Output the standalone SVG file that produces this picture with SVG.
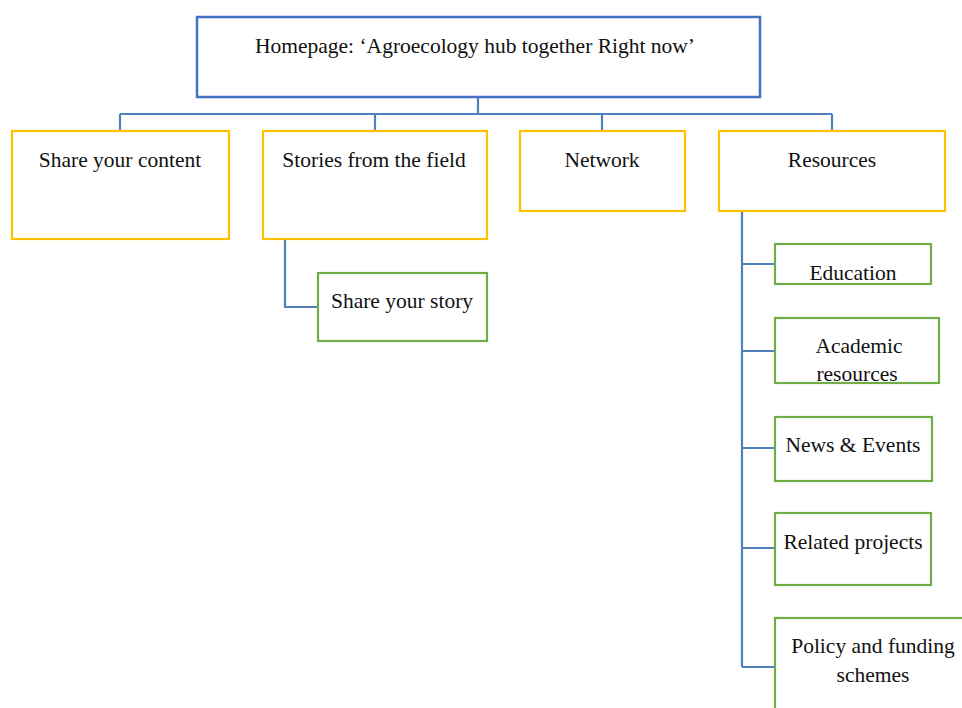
<svg xmlns="http://www.w3.org/2000/svg" width="962" height="708" viewBox="0 0 962 708">
<style>
text{font-family:"Liberation Serif","Times New Roman",serif;font-size:21.5px;fill:#111;text-anchor:middle}
.top{fill:#fff;stroke:#4472C4;stroke-width:2.5}
.y{fill:#fff;stroke:#FFC000;stroke-width:2.2}
.g{fill:#fff;stroke:#70AD47;stroke-width:2.2}
.c{fill:none;stroke:#4F81BD;stroke-width:2.2}
</style>
<rect width="962" height="708" fill="#fff"/>
<g id="connectors">
<path class="c" d="M478 97V114M120 114H832M120 114V131M375 114V131M602 114V131M832 114V131"/>
<path class="c" d="M285 239V307H318"/>
<path class="c" d="M742 211V667M742 264H775M742 351H775M742 448H775M742 548H775M742 667H775"/>
</g>
<g id="home"><rect class="top" x="197" y="17" width="563" height="80"/><text x="475" y="53">Homepage: ‘Agroecology hub together Right now’</text></g>
<g id="share-content"><rect class="y" x="12" y="131" width="217" height="108"/><text x="120" y="167">Share your content</text></g>
<g id="stories"><rect class="y" x="263" y="131" width="224" height="108"/><text x="374" y="167">Stories from the field</text></g>
<g id="network"><rect class="y" x="520" y="131" width="165" height="80"/><text x="602" y="167">Network</text></g>
<g id="resources"><rect class="y" x="719" y="131" width="226" height="80"/><text x="832" y="167">Resources</text></g>
<g id="share-story"><rect class="g" x="318" y="273" width="169" height="68"/><text x="402" y="308">Share your story</text></g>
<g id="education"><rect class="g" x="775" y="244" width="156" height="40"/><text x="853" y="280">Education</text></g>
<g id="academic"><rect class="g" x="775" y="318" width="164" height="65"/><text x="859" y="353">Academic</text><text x="857" y="381">resources</text></g>
<g id="news"><rect class="g" x="775" y="417" width="157" height="64"/><text x="853" y="452">News &amp; Events</text></g>
<g id="related"><rect class="g" x="775" y="513" width="156" height="72"/><text x="853" y="549">Related projects</text></g>
<g id="policy"><rect class="g" x="775" y="618" width="200" height="100"/><text x="873" y="653">Policy and funding</text><text x="873" y="682">schemes</text></g>
</svg>
